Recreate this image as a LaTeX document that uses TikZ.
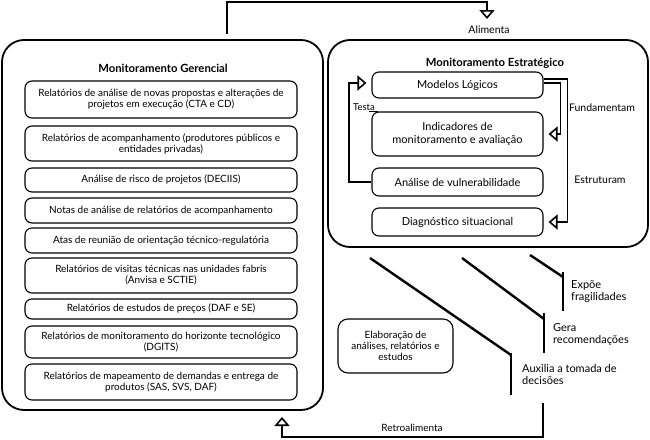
\documentclass[tikz,border=0pt]{standalone}
\usepackage{fontspec}
\setmainfont{Lato}
\usetikzlibrary{arrows.meta,calc}
\tikzset{
  bigbox/.style={draw, line width=1.8pt, rounded corners=22pt, inner sep=0pt},
  ibox/.style={draw, line width=1.1pt, rounded corners=7pt, align=center, inner sep=0pt, font=\fontsize{10}{11}\selectfont},
  rbox/.style={draw, line width=1.1pt, rounded corners=7pt, align=center, inner sep=0pt, font=\fontsize{11}{12.5}\selectfont},
  lbl/.style={font=\fontsize{10.5}{12}\selectfont, inner sep=0pt},
  ann/.style={anchor=west, align=left, inner sep=0pt, font=\fontsize{11}{12}\selectfont},
  ttl/.style={font=\bfseries\fontsize{11.3}{13}\selectfont, inner sep=0pt},
  conn/.style={line width=1.8pt, -{Triangle[open, width=15pt, length=9pt, line width=1.6pt]}},
  diag/.style={line width=2.4pt},
}
\begin{document}
\begin{tikzpicture}[x=1pt,y=-1pt]
\useasboundingbox (0,0) rectangle (650,439);
% big boxes
\node[bigbox, minimum width=321pt, minimum height=370pt] (gm) at (162.5,225) {};
\node[bigbox, minimum width=320pt, minimum height=207pt] (em) at (488,143.5) {};
\node[ttl] (gmt) at (163,68) {Monitoramento Gerencial};
\node[ttl] (emt) at (495,63) {Monitoramento Estratégico};
% left inner boxes
\node[ibox, minimum width=272pt, minimum height=37pt] (g1) at (161,99.5) {Relatórios de análise de novas propostas e alterações de\\projetos em execução (CTA e CD)};
\node[ibox, minimum width=272pt, minimum height=35pt] (g2) at (161,143.5) {Relatórios de acompanhamento (produtores públicos e\\entidades privadas)};
\node[ibox, minimum width=272pt, minimum height=24pt] (g3) at (161,180) {Análise de risco de projetos (DECIIS)};
\node[ibox, minimum width=272pt, minimum height=25pt] (g4) at (161,210.5) {Notas de análise de relatórios de acompanhamento};
\node[ibox, minimum width=272pt, minimum height=25pt] (g5) at (161,240.5) {Atas de reunião de orientação técnico-regulatória};
\node[ibox, minimum width=272pt, minimum height=35pt] (g6) at (161,275.5) {Relatórios de visitas técnicas nas unidades fabris\\(Anvisa e SCTIE)};
\node[ibox, minimum width=272pt, minimum height=20pt] (g7) at (161,309) {Relatórios de estudos de preços (DAF e SE)};
\node[ibox, minimum width=272pt, minimum height=32pt] (g8) at (161,342) {Relatórios de monitoramento do horizonte tecnológico\\(DGITS)};
\node[ibox, minimum width=272pt, minimum height=36pt] (g9) at (161,382) {Relatórios de mapeamento de demandas e entrega de\\produtos (SAS, SVS, DAF)};
% right inner boxes
\node[rbox, minimum width=171pt, minimum height=26pt] (m1) at (457.5,85) {Modelos Lógicos};
\node[rbox, minimum width=171pt, minimum height=44pt] (m2) at (457.5,134) {Indicadores de\\monitoramento e avaliação};
\node[rbox, minimum width=171pt, minimum height=28pt] (m3) at (457.5,182) {Análise de vulnerabilidade};
\node[rbox, minimum width=171pt, minimum height=28pt] (m4) at (457.5,222) {Diagnóstico situacional};
% Elaboração box
\node[ibox, minimum width=115pt, minimum height=54pt, rounded corners=10pt] (el) at (395.5,346) {Elaboração de\\análises, relatórios e\\estudos};
% Alimenta
\coordinate (a0) at (227,34);
\coordinate (a1) at (487,2);
\coordinate (a2) at (487,19);
\draw[conn] (a0) |- (a1) -- (a2);
\node[lbl] (alim) at (489,30) {Alimenta};
% Testa
\coordinate (t1) at (349,182);
\draw[conn, shorten >=5pt] (m3.west) -- (t1) |- ($(m1.west)+(0,-2)$);
\node[lbl, font=\fontsize{9.5}{11}\selectfont] (testa) at (364,107) {Testa};
\coordinate (ts1) at (369,111);
\coordinate (ts2) at (378,111);
\draw[line width=0.8pt] (ts1) -- (ts2);
% Fundamentam / Estruturam
\draw[conn, shorten >=5pt] ($(m1.east)+(0,-2)$) -- ++(17,0) |- (m2.east);
\draw[conn, shorten >=5pt] ($(m1.east)+(0,-6)$) -- ++(24,0) |- (m4.east);
\node[lbl] (fund) at (602,108) {Fundamentam};
\node[lbl] (estr) at (600,180) {Estruturam};
% diagonals
\coordinate (d1a) at (370,258); \coordinate (d1b) at (511,355);
\coordinate (d2a) at (462,258); \coordinate (d2b) at (544,319);
\coordinate (d3a) at (530,255); \coordinate (d3b) at (563,277);
\draw[diag] (d1a) -- (d1b);
\draw[diag] (d2a) -- (d2b);
\draw[diag] (d3a) -- (d3b);
\coordinate (b1a) at (511,353); \coordinate (b1b) at (511,395);
\coordinate (b2a) at (544,313); \coordinate (b2b) at (544,353);
\coordinate (b3a) at (563,272); \coordinate (b3b) at (563,311);
\draw[diag] (b1a) -- (b1b);
\draw[diag] (b2a) -- (b2b);
\draw[diag] (b3a) -- (b3b);
\node[ann] (exp) at (571,292) {Expõe\\fragilidades};
\node[ann] (ger) at (553,334) {Gera\\recomendações};
\node[ann] (aux) at (522,374) {Auxilia a tomada de\\decisões};
% Retroalimenta
\coordinate (r0) at (543,403);
\coordinate (r1) at (282,437);
\coordinate (r2) at (282,417);
\draw[conn] (r0) |- (r1) -- (r2);
\node[lbl, font=\fontsize{10}{12}\selectfont] (retro) at (412,428) {Retroalimenta};
\end{tikzpicture}
\end{document}
